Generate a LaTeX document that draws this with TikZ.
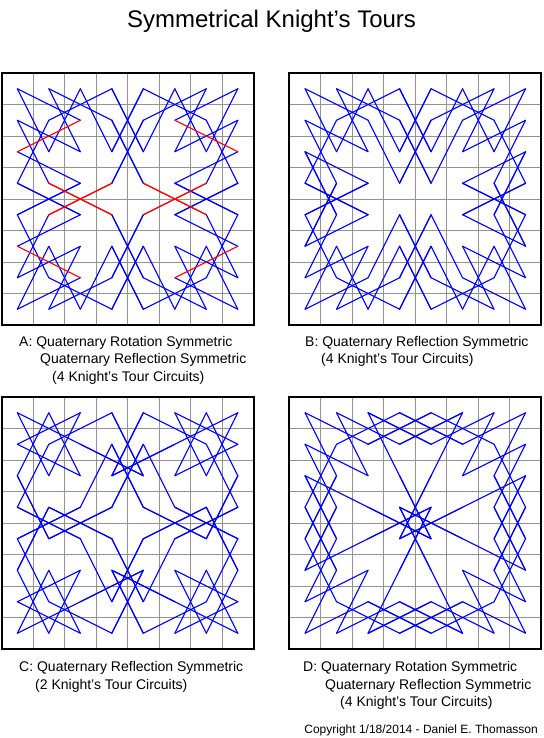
\documentclass[tikz,border=0pt]{standalone}
\usepackage{fontspec}
\setmainfont{Liberation Sans}
\usepackage{tikz}

% draws each move of one board quarter and its three mirror images
\newcommand{\mirroredmoves}[3]{%
  \foreach \ca/\ra/\cb/\rb in {#3} {
    \pgfmathtruncatemacro{\xa}{7-\ca}\pgfmathtruncatemacro{\ya}{7-\ra}
    \pgfmathtruncatemacro{\xb}{7-\cb}\pgfmathtruncatemacro{\yb}{7-\rb}
    \draw[#2] (#1\ca\ra) -- (#1\cb\rb) (#1\xa\ra) -- (#1\xb\rb)
              (#1\ca\ya) -- (#1\cb\yb) (#1\xa\ya) -- (#1\xb\yb);
  }}

\begin{document}
\begin{tikzpicture}[x=1pt, y=-1pt,
    frame/.style={line width=2pt},
    grid line/.style={gray!85, line width=0.9pt},
    tour/.style={blue, line width=1.1pt, line cap=round},
    swap/.style={red, line width=1.1pt, line cap=round},
    caption/.style={anchor=base west, inner sep=0pt, font=\fontsize{14}{17}\selectfont}]
    \useasboundingbox (0,0) rectangle (543,738);

    % Title
    \node[anchor=base, font=\fontsize{24}{28}\selectfont] (title) at (271.5,28) {Symmetrical Knight’s Tours};

    % Boards: grid, frame and square centres
    \foreach \b/\bx/\by in {A/1.6/73, B/289.3/73, C/1.6/397, D/289.3/397} {
        \foreach \i in {1,...,7} {
            \draw[grid line] (\bx+31.5*\i, \by) -- (\bx+31.5*\i, \by+252);
            \draw[grid line] (\bx, \by+31.5*\i) -- (\bx+252, \by+31.5*\i);
        }
        \draw[frame] (\bx,\by) rectangle ++(252,252);
        \foreach \c in {0,...,7}
            \foreach \r in {0,...,7}
                \coordinate (\b\c\r) at (\bx+15.75+31.5*\c, \by+15.75+31.5*\r);
    }

    % A: rotation and reflection symmetric
    \mirroredmoves{A}{tour}{0/0/1/2, 0/0/2/1, 1/0/3/1, 1/0/2/2, 2/0/3/2, 2/0/1/2,
        3/0/4/2, 3/0/1/1, 0/1/2/2, 0/1/1/3, 1/1/0/3, 3/1/4/3, 0/2/2/3, 2/3/0/4,
        0/3/2/4, 3/2/4/0, 3/3/4/1}
    \mirroredmoves{A}{swap}{0/2/2/1, 1/3/3/4, 3/3/1/4}

    % B: reflection symmetric
    \mirroredmoves{B}{tour}{0/0/1/2, 0/0/2/1, 1/0/3/1, 1/0/2/2, 2/0/3/2, 2/0/1/2,
        3/0/4/2, 3/0/1/1, 0/1/2/2, 0/1/1/3, 1/1/0/3, 2/1/3/3, 3/1/4/3, 0/2/2/3,
        0/2/1/4, 3/2/4/0, 0/3/2/4, 1/3/0/5, 2/3/0/4, 3/3/4/1}

    % C: reflection symmetric
    \mirroredmoves{C}{tour}{0/0/1/2, 0/0/2/1, 1/0/0/2, 1/0/2/2, 2/0/1/2, 2/0/0/1,
        3/0/1/1, 3/0/4/2, 0/1/2/2, 1/1/0/3, 2/1/4/2, 3/1/2/3, 3/1/4/3, 0/2/1/4,
        3/2/4/0, 3/2/5/1, 0/3/2/4, 1/3/3/4, 1/3/0/5, 2/3/0/4, 3/3/4/1, 3/3/1/4}

    % D: rotation and reflection symmetric
    \mirroredmoves{D}{tour}{0/0/1/2, 0/0/2/1, 1/0/3/1, 1/0/2/2, 2/0/3/2, 2/0/4/1,
        3/0/1/1, 3/0/5/1, 0/1/1/3, 0/1/2/2, 1/1/0/3, 2/1/4/0, 3/1/5/0, 0/2/2/3,
        0/2/1/4, 1/2/0/4, 3/2/4/4, 0/3/1/5, 1/3/0/5, 2/3/4/4, 3/3/5/4, 3/3/4/5}

    % Captions
    \node[caption] (capA1) at (19,346) {A: Quaternary Rotation Symmetric};
    \node[caption] (capA2) at (40,363) {Quaternary Reflection Symmetric};
    \node[caption] (capA3) at (52,381) {(4 Knight’s Tour Circuits)};
    \node[caption] (capB1) at (305,346) {B: Quaternary Reflection Symmetric};
    \node[caption] (capB2) at (321,363) {(4 Knight’s Tour Circuits)};
    \node[caption] (capC1) at (19,671) {C: Quaternary Reflection Symmetric};
    \node[caption] (capC2) at (35,689) {(2 Knight’s Tour Circuits)};
    \node[caption] (capD1) at (303,671) {D: Quaternary Rotation Symmetric};
    \node[caption] (capD2) at (325,689) {Quaternary Reflection Symmetric};
    \node[caption] (capD3) at (340,706) {(4 Knight’s Tour Circuits)};

    \node[anchor=base east, inner sep=0pt, font=\fontsize{12}{14}\selectfont] (copy) at (538,733)
        {Copyright 1/18/2014 - Daniel E. Thomasson};
\end{tikzpicture}
\end{document}
